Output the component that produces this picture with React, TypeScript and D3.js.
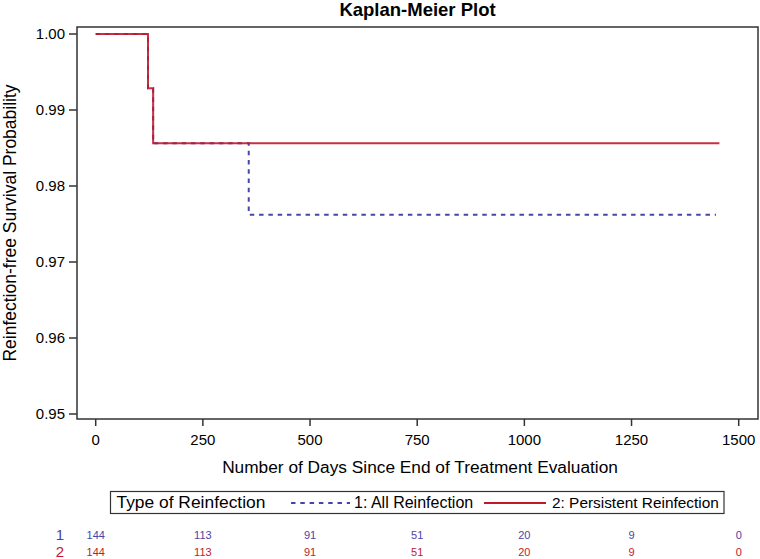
import * as d3 from 'd3';
import React from 'react';

// step points of the estimates: [day, survival]
const allReinfection: [number, number][] = [
    [0, 1.0],
    [122, 0.99286],
    [134, 0.98562],
    [357, 0.97622],
    [1447, 0.97622],
];
const persistentReinfection: [number, number][] = [
    [0, 1.0],
    [122, 0.99286],
    [134, 0.98562],
    [1455, 0.98562],
];

const xTicks = [0, 250, 500, 750, 1000, 1250, 1500];
const yTicks = [0.95, 0.96, 0.97, 0.98, 0.99, 1.0];

const atRiskTimes = [0, 250, 500, 750, 1000, 1250, 1500];
const atRiskAll = [144, 113, 91, 51, 20, 9, 0];
const atRiskPersistent = [144, 113, 91, 51, 20, 9, 0];

const BLUE = '#4646a6';
const RED = '#c2182b';
const FONT = 'Arial, "Liberation Sans", Helvetica, sans-serif';

const App = () => {
    const width = 760;
    const height = 559;

    const frame = { left: 77, top: 27, right: 758, bottom: 419 };

    const x = d3.scaleLinear().domain([0, 1500]).range([95.7, 738.7]);
    const y = d3.scaleLinear().domain([0.95, 1.0]).range([414, 34]);

    const line = d3
        .line<[number, number]>()
        .x((d) => x(d[0]))
        .y((d) => y(d[1]))
        .curve(d3.curveStepAfter);

    const midX = (frame.left + frame.right) / 2;

    return (
        <svg
            width={width}
            height={height}
            style={{ position: 'absolute', left: 0, top: 0, background: '#fff' }}
            fontFamily={FONT}
        >
            <text x={midX} y={15.5} textAnchor="middle" fontSize={18.5} fontWeight="bold" fill="#000">
                Kaplan-Meier Plot
            </text>

            {/* curves */}
            <path d={line(allReinfection) || ''} fill="none" stroke={BLUE} strokeWidth={2} strokeDasharray="4.5,4.8" />
            <path d={line(persistentReinfection) || ''} fill="none" stroke={RED} strokeWidth={2} strokeOpacity={0.9} />

            {/* frame */}
            <rect
                x={frame.left}
                y={frame.top}
                width={frame.right - frame.left}
                height={frame.bottom - frame.top}
                fill="none"
                stroke="#333"
                strokeWidth={1.5}
            />

            {/* y axis */}
            {yTicks.map((t) => (
                <g key={t}>
                    <line x1={69} x2={frame.left} y1={y(t)} y2={y(t)} stroke="#333" strokeWidth={1.5} />
                    <text x={65} y={y(t)} dy="0.35em" textAnchor="end" fontSize={15} fill="#000">
                        {d3.format('.2f')(t)}
                    </text>
                </g>
            ))}
            <text
                transform={`translate(15.5, ${(frame.top + frame.bottom) / 2}) rotate(-90)`}
                textAnchor="middle"
                fontSize={17.5}
                fill="#000"
            >
                Reinfection-free Survival Probability
            </text>

            {/* x axis */}
            {xTicks.map((t) => (
                <g key={t}>
                    <line x1={x(t)} x2={x(t)} y1={frame.bottom} y2={frame.bottom + 7} stroke="#333" strokeWidth={1.5} />
                    <text x={x(t)} y={445} textAnchor="middle" fontSize={15} fill="#000">
                        {t}
                    </text>
                </g>
            ))}
            <text x={420} y={473} textAnchor="middle" fontSize={17.3} fill="#000">
                Number of Days Since End of Treatment Evaluation
            </text>

            {/* legend */}
            <rect x={110.5} y={491.5} width={613.5} height={22} fill="#fff" stroke="#333" strokeWidth={1.2} />
            <text x={116.5} y={508.3} fontSize={17.4} fill="#000">
                Type of Reinfection
            </text>
            <line x1={291} x2={350} y1={503} y2={503} stroke={BLUE} strokeWidth={2} strokeDasharray="4.5,4.8" />
            <text x={354} y={508.3} fontSize={16} fill="#000">
                1: All Reinfection
            </text>
            <line x1={484} x2={546} y1={503} y2={503} stroke={RED} strokeWidth={2} />
            <text x={552} y={508.3} fontSize={15.4} fill="#000">
                2: Persistent Reinfection
            </text>

            {/* at-risk table */}
            <text x={60} y={535} dy="0.35em" textAnchor="middle" fontSize={15} fill={BLUE}>
                1
            </text>
            <text x={60} y={552} dy="0.35em" textAnchor="middle" fontSize={15} fill={RED}>
                2
            </text>
            {atRiskTimes.map((t, i) => (
                <g key={t}>
                    <text x={x(t)} y={535} dy="0.35em" textAnchor="middle" fontSize={11} fill={BLUE}>
                        {atRiskAll[i]}
                    </text>
                    <text x={x(t)} y={552.5} dy="0.35em" textAnchor="middle" fontSize={11} fill={RED}>
                        {atRiskPersistent[i]}
                    </text>
                </g>
            ))}
        </svg>
    );
};

export default App;
